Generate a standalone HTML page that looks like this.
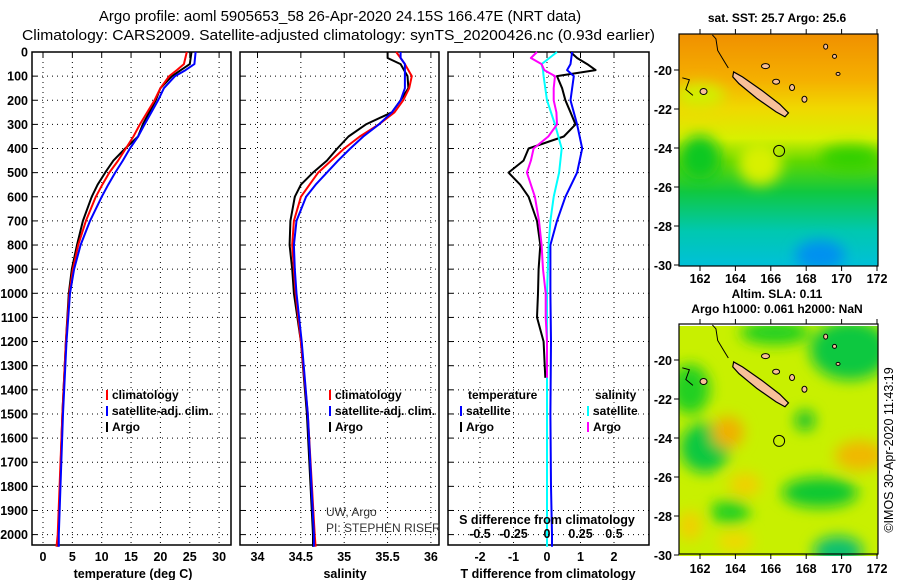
<!DOCTYPE html>
<html><head><meta charset="utf-8">
<style>
html,body{margin:0;padding:0;background:#fff;}
svg{display:block;font-family:"Liberation Sans",sans-serif;}
.tk{font-size:12.5px;font-weight:bold;fill:#000;}
.lg{font-size:12px;font-weight:bold;fill:#000;}
</style></head>
<body>
<svg id="chart" width="900" height="580" viewBox="0 0 900 580" xmlns="http://www.w3.org/2000/svg">
<defs>
<filter id="bl" x="-50%" y="-50%" width="200%" height="200%"><feGaussianBlur stdDeviation="7"/></filter>
<clipPath id="c1"><rect x="679" y="34" width="199" height="232"/></clipPath>
<clipPath id="c2"><rect x="679" y="326" width="199" height="230"/></clipPath>
<linearGradient id="sst" x1="0" y1="0" x2="0" y2="1">
<stop offset="0" stop-color="#f09000"/><stop offset="0.2" stop-color="#f5b000"/>
<stop offset="0.32" stop-color="#f0d800"/><stop offset="0.45" stop-color="#d8f000"/>
<stop offset="0.55" stop-color="#60d800"/><stop offset="0.68" stop-color="#10c840"/>
<stop offset="0.85" stop-color="#00c8b0"/><stop offset="1" stop-color="#00c0d8"/>
</linearGradient>
</defs>
<text x="340" y="21" text-anchor="middle" font-size="15">Argo profile: aoml 5905653_58 26-Apr-2020 24.15S 166.47E (NRT data)</text>
<text x="22" y="40" font-size="15" textLength="633" lengthAdjust="spacingAndGlyphs">Climatology: CARS2009. Satellite-adjusted climatology: synTS_20200426.nc (0.93d earlier)</text>
<g id="plots"></g>
<g id="maps"></g>
</svg>
<script>
// ---- data ----
const tDepth = [0,50,75,100,150,200,300,350,400,450,500,550,600,700,800,900,1000,1200,1500,2000,2050];
const tArgo = [25.3,25.0,23.5,22.0,20.0,19.2,17.0,16.2,14.0,12.0,10.6,9.3,8.3,6.8,5.8,4.9,4.4,3.9,3.3,2.6,2.5];
const tClim = [24.5,24.0,22.8,21.5,20.0,19.0,16.5,15.4,14.1,12.8,11.3,10.1,9.0,7.3,6.0,5.1,4.5,3.9,3.3,2.5,2.3];
const tSat  = [26.0,25.8,24.3,22.5,20.6,19.6,17.3,16.2,14.8,13.6,12.3,11.1,10.0,8.0,6.4,5.3,4.6,4.0,3.4,2.7,2.7];
const sDepth = [0,25,50,100,150,200,250,300,350,400,450,500,550,600,700,800,900,1000,1200,1500,2000,2050];
const sArgo = [35.5,35.5,35.65,35.73,35.74,35.65,35.55,35.25,35.05,34.92,34.8,34.64,34.5,34.43,34.38,34.37,34.4,34.42,34.5,34.57,34.64,34.64];
const sClim = [35.6,35.65,35.7,35.78,35.75,35.68,35.58,35.4,35.18,35.0,34.85,34.7,34.6,34.5,34.42,34.4,34.42,34.44,34.5,34.58,34.66,34.67];
const sSat  = [35.65,35.65,35.7,35.7,35.7,35.65,35.55,35.4,35.22,35.07,34.93,34.8,34.67,34.56,34.45,34.42,34.43,34.45,34.51,34.58,34.65,34.65];
const dDepth = [0,25,50,75,100,150,200,250,300,350,400,450,500,550,600,700,800,900,1000,1100,1200,1350];
const dTArgo = [0.7,0.9,1.2,1.45,0.3,0.45,0.55,0.7,0.85,0.5,-0.55,-0.7,-1.15,-0.8,-0.55,-0.3,-0.2,-0.25,-0.27,-0.3,-0.1,-0.05];
const satDepth = [0,50,75,100,200,300,400,500,600,700,800,1000,1200,1500,1800,2000,2050];
const dTSat = [0.75,0.7,0.6,0.8,0.7,0.9,1.05,0.9,0.55,0.3,0.1,0.1,0.12,0.1,0.12,0.15,0.15];
const dSArgo = [-0.075,-0.12,-0.04,-0.02,0.06,0.05,0.05,0.07,0.075,0.01,-0.1,-0.12,-0.15,-0.12,-0.09,-0.06,-0.04,-0.03,-0.01,-0.01,0,0];
const dSSat = [0.075,-0.04,-0.03,-0.025,0,0.06,0.11,0.09,0.05,0.025,0.012,0,0,0,0,0,0];
const depthTicks = [0,100,200,300,400,500,600,700,800,900,1000,1100,1200,1300,1400,1500,1600,1700,1800,1900,2000];
const tTicks = [0,5,10,15,20,25,30];
const sTicks = [34,34.5,35,35.5,36];
const dTTicks = [-2,-1,0,1,2];
const dSTicks = [-0.5,-0.25,0,0.25,0.5];
const latTicks = [-20,-22,-24,-26,-28,-30];
const lonTicks = [162,164,166,168,170,172];

const NS='http://www.w3.org/2000/svg';
function mk(tag,attrs,parent,txt){const e=document.createElementNS(NS,tag);for(const k in attrs)e.setAttribute(k,attrs[k]);if(txt!==undefined)e.textContent=txt;parent.appendChild(e);return e;}
const plots=document.getElementById('plots');
const yD = d => 52 + d*0.2413;
const xT = v => 43 + v*5.87;
const xS = v => 257.5 + (v-34)*86.7;
const xDT = v => 547 + v*33.5;
const xDS = v => 547 + v*134;

const panels=[{x0:32,x1:231,name:'temperature-panel'},{x0:240,x1:439,name:'salinity-panel'},{x0:448,x1:649,name:'difference-panel'}];
const BOT=545;
function frame(p,xticks,xf,labels,labelY){
  const g=mk('g',{},plots);
  
  
  depthTicks.forEach(d=>{mk('line',{x1:p.x0,x2:p.x1,y1:yD(d),y2:yD(d),stroke:'#000','stroke-width':1,'stroke-dasharray':'1,4'},g);
    mk('line',{x1:p.x0,x2:p.x0+5,y1:yD(d),y2:yD(d),stroke:'#000'},g);});
  xticks.forEach((v,i)=>{const x=xf(v);mk('line',{x1:x,x2:x,y1:52,y2:BOT,stroke:'#000','stroke-dasharray':'1,4'},g);
    mk('line',{x1:x,x2:x,y1:52,y2:57,stroke:'#000'},g);
    if(labels){const t=mk('text',{x:x,y:labelY,'text-anchor':'middle',class:'tk'},g,String(v));
      }});
  mk('rect',{x:p.x0,y:52,width:p.x1-p.x0,height:BOT-52,fill:'none',stroke:'#000','stroke-width':1.5},g);
  return g;
}
const g1=frame(panels[0],tTicks,xT,true,561);
const g2=frame(panels[1],sTicks,xS,true,561);
const g3=frame(panels[2],dTTicks,xDT,true,561);
depthTicks.forEach(d=>{const t=mk('text',{x:28,y:yD(d)+4.5,'text-anchor':'end',class:'tk'},plots,String(d));
  });
[['temperature (deg C)',133],['salinity',345],['T difference from climatology',548]].forEach(a=>{
  const t=mk('text',{x:a[1],y:578,'text-anchor':'middle',class:'tk'},plots,a[0]);
  });

function line(g,ds,vs,xf,color,name,w){
  const pts=ds.map((d,i)=>xf(vs[i]).toFixed(1)+','+yD(d).toFixed(1)).join(' ');
  const l=mk('polyline',{points:pts,fill:'none',stroke:color,'stroke-width':w||2,'stroke-linejoin':'round'},g);
  
}
line(g1,tDepth,tArgo,xT,'#000','argo-temperature-line');
line(g1,tDepth,tClim,xT,'#f00','climatology-temperature-line');
line(g1,tDepth,tSat,xT,'#00f','satellite-temperature-line');
line(g2,sDepth,sArgo,xS,'#000','argo-salinity-line');
line(g2,sDepth,sClim,xS,'#f00','climatology-salinity-line');
line(g2,sDepth,sSat,xS,'#00f','satellite-salinity-line');
line(g3,dDepth,dTArgo,xDT,'#000','argo-t-diff-line');
line(g3,satDepth,dTSat,xDT,'#00f','satellite-t-diff-line');
line(g3,satDepth,dSSat,xDS,'#0ff','satellite-s-diff-line');
line(g3,dDepth,dSArgo,xDS,'#f0f','argo-s-diff-line');

dSTicks.forEach(v=>{const t=mk('text',{x:xDS(v),y:538,'text-anchor':'middle',class:'tk'},g3,String(v));
  });
{const t=mk('text',{x:547,y:524,'text-anchor':'middle',class:'tk'},g3,'S difference from climatology');
 }

function legend(parent,x,y,color,label){
  const g=mk('g',{},parent);
  
  mk('line',{x1:x,x2:x,y1:y-9,y2:y+1,stroke:color,'stroke-width':2},g);
  mk('text',{x:x+5,y:y,class:'lg'},g,label);
}
legend(g1,107,399,'#f00','climatology');legend(g1,107,415,'#00f','satellite-adj. clim.');legend(g1,107,431,'#000','Argo');
legend(g2,330,399,'#f00','climatology');legend(g2,330,415,'#00f','satellite-adj. clim.');legend(g2,330,431,'#000','Argo');
mk('text',{x:468,y:399,class:'lg'},g3,'temperature');mk('text',{x:595,y:399,class:'lg'},g3,'salinity');
legend(g3,461,415,'#00f','satellite');legend(g3,461,431,'#000','Argo');
legend(g3,588,415,'#0ff','satellite');legend(g3,588,431,'#f0f','Argo');
{const t=mk('text',{x:326,y:516,'font-size':12,fill:'#333'},g2,'UW, Argo');
 const t2=mk('text',{x:326,y:532,'font-size':12,fill:'#333'},g2,'PI: STEPHEN RISER');}

// ---- maps ----
const maps=document.getElementById('maps');
const mX = lon => 700 + (lon-162)*17.7;
function drawMap(off,clip,kind,name,title1,title2){
  const g=mk('g',{},maps);
  
  const mY = lat => 70 + off + (-20-lat)*19.5;
  const cg=mk('g',{'clip-path':'url(#'+clip+')'},g);
  if(kind==='sst'){
    mk('rect',{x:679,y:34+off,width:199,height:232,fill:'url(#sst)'},cg);
    const b=mk('g',{filter:'url(#bl)'},cg);
    mk('ellipse',{cx:700,cy:mY(-24.5),rx:20,ry:22,fill:'#10c820'},b);
    mk('ellipse',{cx:850,cy:mY(-24.5),rx:30,ry:12,fill:'#30d000'},b);
    mk('ellipse',{cx:760,cy:mY(-24.8),rx:22,ry:22,fill:'#d8f000'},b);
    mk('ellipse',{cx:820,cy:mY(-29.5),rx:25,ry:15,fill:'#0090f0'},b);
    mk('ellipse',{cx:700,cy:mY(-21.3),rx:25,ry:12,fill:'#d0f000'},b);
  } else {
    mk('rect',{x:679,y:326,width:199,height:230,fill:'#c8f000'},cg);
    const b=mk('g',{filter:'url(#bl)'},cg);
    [[850,-19.5,40,30,'#10c840'],[775,-18.6,35,12,'#20d020'],[690,-21.5,20,25,'#20d020'],[705,-24.5,25,25,'#10c840'],
     [820,-26.8,38,15,'#10c830'],[838,-29.8,25,15,'#10c070'],[730,-27.8,20,12,'#20d020'],[805,-23.1,10,10,'#10c030'],
     [728,-23.7,16,16,'#f0b000'],[860,-24.9,25,15,'#f0b800'],[745,-26.4,16,12,'#f0d000'],[690,-28.5,12,15,'#f0d000'],[735,-29.3,18,10,'#f0d800']]
     .forEach(e=>mk('ellipse',{cx:e[0],cy:mY(e[1]),rx:e[2],ry:e[3],fill:e[4]},b));
  }
  const isl=[[163.9,-20.1],[164.4,-20.35],[165.5,-21.05],[166.5,-21.75],[167.0,-22.2],[166.8,-22.4],[166.3,-22.15],[165.2,-21.45],[164.2,-20.7],[163.85,-20.35]];
  mk('polygon',{points:isl.map(p=>mX(p[0])+','+mY(p[1])).join(' '),fill:'#f8c098',stroke:'#000','stroke-width':1.2},g);
  [[165.7,-19.8,4,2.5],[166.3,-20.6,3.5,2.5],[167.2,-20.9,2.5,3],[167.9,-21.5,2.5,3],[169.1,-18.8,2,2.5],[169.6,-19.3,2,2],[162.2,-21.1,3.5,3],[169.8,-20.2,2,1.5]]
   .forEach(e=>mk('ellipse',{cx:mX(e[0]),cy:mY(e[1]),rx:e[2],ry:e[3],fill:'#f8c098',stroke:'#000','stroke-width':1},g));
  mk('polyline',{points:[[162.7,-18.2],[162.9,-18.4],[163.0,-19.0],[163.4,-19.6],[163.6,-19.9]].map(p=>mX(p[0])+','+mY(p[1])).join(' '),fill:'none',stroke:'#000'},g);
  mk('polyline',{points:[[161,-20.4],[161.4,-20.5],[161.2,-21.0],[161.6,-21.3]].map(p=>mX(p[0])+','+mY(p[1])).join(' '),fill:'none',stroke:'#000'},g);
  const c=mk('circle',{cx:mX(166.47),cy:mY(-24.15),r:5.5,fill:'none',stroke:'#000','stroke-width':1},g);
  
  const h=(off?230:232);
  mk('rect',{x:679,y:34+off,width:199,height:h,fill:'none',stroke:'#000','stroke-width':1.2},g);
  latTicks.forEach(l=>{mk('line',{x1:674,x2:679,y1:mY(l),y2:mY(l),stroke:'#000'},g);
    const t=mk('text',{x:672,y:mY(l)+5,'text-anchor':'end',class:'tk','font-size':13.5},g,String(l));
    });
  lonTicks.forEach(l=>{const x=mX(l);mk('line',{x1:x,x2:x,y1:34+off+h,y2:39+off+h,stroke:'#000'},g);
    mk('line',{x1:x,x2:x,y1:29+off,y2:34+off,stroke:'#000'},g);
    const t=mk('text',{x:x,y:off?573:283,'text-anchor':'middle',class:'tk','font-size':13.5},g,String(l));
    });
  const t1=mk('text',{x:777,y:off?298:22,'text-anchor':'middle',class:'lg'},g,title1);
  
  if(title2){const t2=mk('text',{x:777,y:313,'text-anchor':'middle',class:'lg'},g,title2);
    }
}
drawMap(0,'c1','sst','sst-map','sat. SST: 25.7 Argo: 25.6');
drawMap(290,'c2','sla','sla-map','Altim. SLA: 0.11','Argo h1000: 0.061 h2000: NaN');
{const t=mk('text',{x:0,y:0,'font-size':12.5,fill:'#000','text-anchor':'middle',transform:'translate(893,450) rotate(-90)'},maps,'©IMOS 30-Apr-2020 11:43:19');
 }
</script>
</body></html>
